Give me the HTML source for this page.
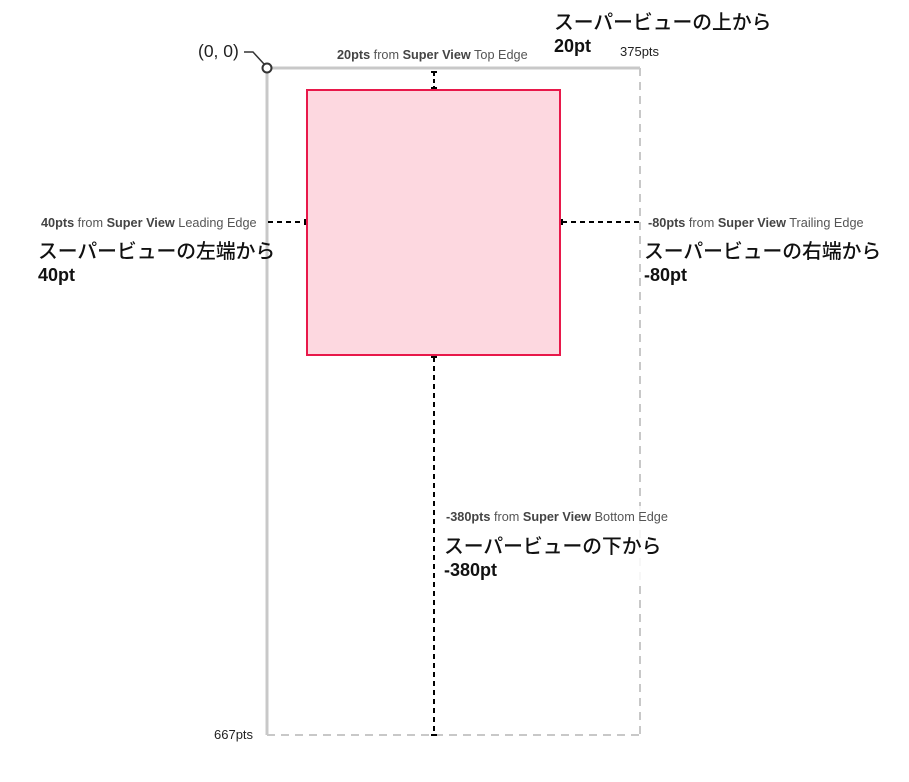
<!DOCTYPE html>
<html><head><meta charset="utf-8"><style>
html,body{margin:0;padding:0;background:#fff;width:909px;height:782px;overflow:hidden}
svg{display:block}
.s{font-family:"Liberation Sans","Noto Sans CJK JP",sans-serif;font-size:12.7px;fill:#555}
.s tspan.b{font-weight:bold;fill:#444}
.j{font-family:"Liberation Sans","Noto Sans CJK JP",sans-serif;font-size:19.8px;fill:#111;font-weight:500}
.n{font-family:"Liberation Sans",sans-serif;font-size:18px;font-weight:bold;fill:#111}
.c{font-family:"Liberation Sans",sans-serif;font-size:13px;fill:#222}
</style></head><body>
<svg width="909" height="782" viewBox="0 0 909 782" xmlns="http://www.w3.org/2000/svg">
<line x1="640" y1="68" x2="640" y2="735" stroke="#c8c8c8" stroke-width="2" stroke-dasharray="8,6"/>
<line x1="267" y1="735" x2="640" y2="735" stroke="#c8c8c8" stroke-width="2" stroke-dasharray="8,6"/>
<line x1="267" y1="68" x2="640" y2="68" stroke="#c8c8c8" stroke-width="3"/>
<line x1="267" y1="68" x2="267" y2="735" stroke="#c8c8c8" stroke-width="3"/>
<polyline points="244,52 253,52 264,64" fill="none" stroke="#333" stroke-width="1.5"/>
<circle cx="267" cy="68" r="4.5" fill="#fff" stroke="#333" stroke-width="2"/>
<text x="198" y="57" style="font-family:'Liberation Sans',sans-serif;font-size:17.5px;fill:#222">(0, 0)</text>
<text class="c" x="214" y="739">667pts</text>
<rect x="307" y="90" width="253" height="265" fill="#fdd8e0" stroke="#e8184a" stroke-width="2"/>
<g stroke="#000" stroke-width="2" fill="none">
<line x1="434" y1="72" x2="434" y2="88" stroke-dasharray="4,3"/>
<line x1="431" y1="72" x2="437" y2="72"/><line x1="431" y1="88" x2="437" y2="88"/>
<line x1="268" y1="222" x2="305" y2="222" stroke-dasharray="5,4"/>
<line x1="305" y1="219" x2="305" y2="225"/>
<line x1="562" y1="222" x2="639" y2="222" stroke-dasharray="5,4"/>
<line x1="562" y1="219" x2="562" y2="225"/>
<line x1="434" y1="357" x2="434" y2="735" stroke-dasharray="5,4"/>
<line x1="431" y1="357" x2="437" y2="357"/><line x1="431" y1="735" x2="437" y2="735"/>
</g>
<text class="s" x="337" y="59"><tspan class="b">20pts</tspan> from <tspan class="b">Super View</tspan> Top Edge</text>
<rect x="552" y="10" width="230" height="48" fill="#fff"/>
<text class="j" x="554" y="29">スーパービューの上から</text>
<text class="n" x="554" y="52">20pt</text>
<text class="c" x="620" y="56">375pts</text>

<text class="s" x="41" y="227"><tspan class="b">40pts</tspan> from <tspan class="b">Super View</tspan> Leading Edge</text>
<text class="j" x="38" y="258">スーパービューの左端から</text>
<text class="n" x="38" y="281">40pt</text>

<rect x="644" y="212" width="250" height="76" fill="#fff"/>
<text class="s" x="648" y="227"><tspan class="b">-80pts</tspan> from <tspan class="b">Super View</tspan> Trailing Edge</text>
<text class="j" x="644" y="258">スーパービューの右端から</text>
<text class="n" x="644" y="281">-80pt</text>

<rect x="443" y="506" width="240" height="76" fill="#fff" fill-opacity="0.85"/>
<text class="s" x="446" y="521"><tspan class="b">-380pts</tspan> from <tspan class="b">Super View</tspan> Bottom Edge</text>
<text class="j" x="444" y="553">スーパービューの下から</text>
<text class="n" x="444" y="576">-380pt</text>
</svg>
</body></html>
